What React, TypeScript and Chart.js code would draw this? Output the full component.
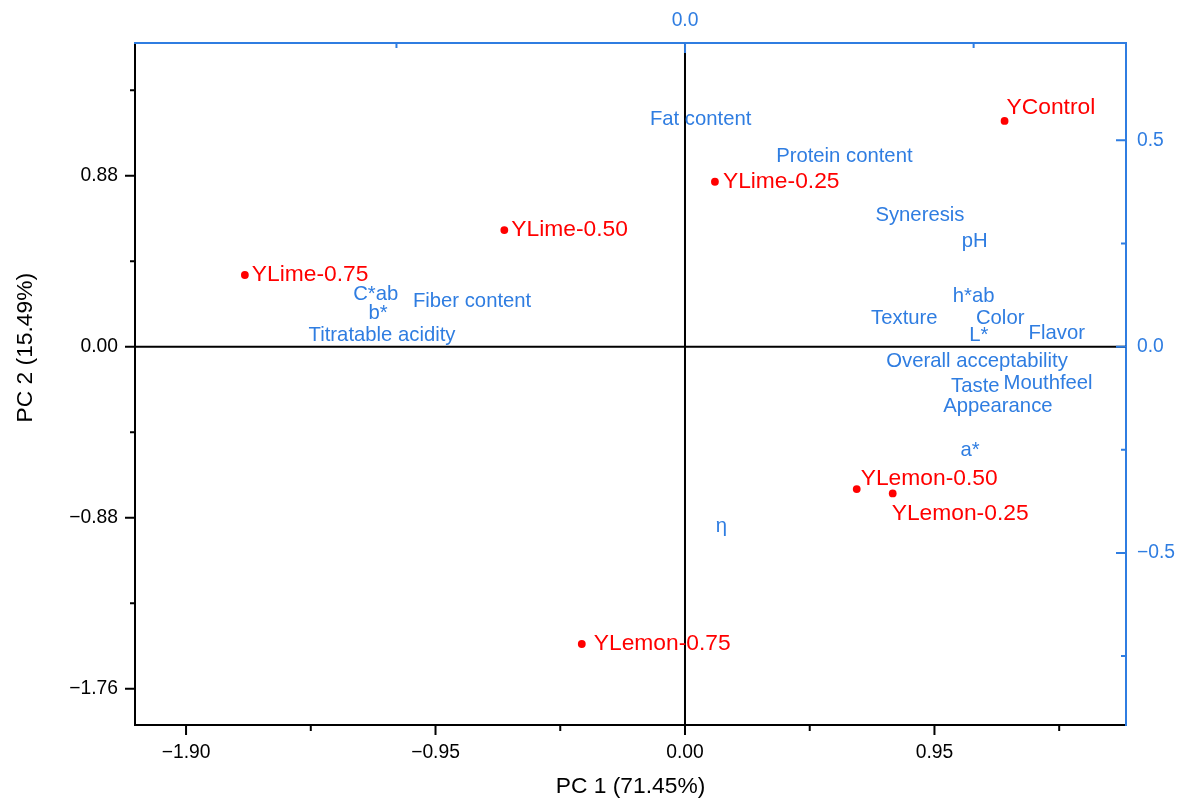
import React, { useEffect, useRef } from 'react';
import { Chart, registerables } from 'chart.js';

Chart.register(...registerables);

// ---------- data ----------
const sampleNames = ['YControl', 'YLime-0.25', 'YLime-0.50', 'YLime-0.75', 'YLemon-0.25', 'YLemon-0.50', 'YLemon-0.75'];
const scorePC1 = [1.217, 0.114, -0.688, -1.676, 0.791, 0.654, -0.393];
const scorePC2 = [1.162, 0.849, 0.6, 0.369, -0.755, -0.733, -1.53];

const variableNames = [
  'Fat content', 'Protein content', 'Syneresis', 'pH', 'h*ab', 'Texture', 'Color', 'L*', 'Flavor',
  'Overall acceptability', 'Taste', 'Mouthfeel', 'Appearance', 'a*', 'η', 'C*ab', 'b*',
  'Titratable acidity', 'Fiber content',
];
const loadingPC1 = [0.027, 0.276, 0.407, 0.502, 0.5, 0.38, 0.546, 0.509, 0.644, 0.506, 0.503, 0.629, 0.542, 0.494, 0.063, -0.536, -0.532, -0.525, -0.369];
const loadingPC2 = [0.554, 0.464, 0.322, 0.259, 0.125, 0.071, 0.071, 0.032, 0.036, -0.032, -0.093, -0.085, -0.141, -0.249, -0.432, 0.131, 0.085, 0.032, 0.113];

const pc1Ticks = [-1.9, -0.95, 0, 0.95];
const pc1TickLabels = ['−1.90', '−0.95', '0.00', '0.95'];
const pc1MinorTicks = [-1.425, -0.475, 0.475, 1.425];

const pc2Ticks = [-1.76, -0.88, 0, 0.88];
const pc2TickLabels = ['−1.76', '−0.88', '0.00', '0.88'];
const pc2MinorTicks = [-1.32, -0.44, 0.44, 1.32];

const loadXTicks = [0];
const loadXTickLabels = ['0.0'];
const loadXMinorTicks = [-0.5, 0.5];

const loadYTicks = [-0.5, 0, 0.5];
const loadYTickLabels = ['−0.5', '0.0', '0.5'];
const loadYMinorTicks = [-0.75, -0.25, 0.25];

// ---------- styling ----------
const BLUE = '#2F7DE1';
const RED = '#FF0000';
const FONT = '"Liberation Sans", Arial, sans-serif';
const sampleLabelOffsets = [[2, -13], [8, 0], [7, 0], [7, 0], [-1, 20], [4, -10], [12, 0]];
const variableLabelShiftY = 1.5;

const decorPlugin = {
  id: 'biplotDecor',
  beforeDatasetsDraw(chart: any) {
    const { ctx, chartArea, scales } = chart;
    const x0 = scales.x.getPixelForValue(0);
    const y0 = scales.y.getPixelForValue(0);
    ctx.save();
    ctx.strokeStyle = '#000';
    ctx.lineWidth = 2;
    ctx.beginPath();
    ctx.moveTo(x0, chartArea.top);
    ctx.lineTo(x0, chartArea.bottom);
    ctx.moveTo(chartArea.left, y0);
    ctx.lineTo(chartArea.right, y0);
    ctx.stroke();
    ctx.restore();
  },
  afterDatasetsDraw(chart: any) {
    const ctx = chart.ctx;
    ctx.save();
    ctx.textBaseline = 'middle';
    const m1 = chart.getDatasetMeta(1);
    ctx.font = `20.3px ${FONT}`;
    ctx.fillStyle = BLUE;
    ctx.textAlign = 'center';
    m1.data.forEach((el: any, i: number) => ctx.fillText(variableNames[i], el.x, el.y + variableLabelShiftY));
    const m0 = chart.getDatasetMeta(0);
    ctx.font = `22.8px ${FONT}`;
    ctx.fillStyle = RED;
    ctx.textAlign = 'left';
    m0.data.forEach((el: any, i: number) =>
      ctx.fillText(sampleNames[i], el.x + sampleLabelOffsets[i][0], el.y + sampleLabelOffsets[i][1])
    );
    ctx.restore();
  },
  afterDraw(chart: any) {
    const { ctx, chartArea, scales } = chart;
    ctx.save();
    ctx.lineWidth = 2;
    const tickSet = (scale: any, values: number[], len: number, side: string, color: string) => {
      ctx.strokeStyle = color;
      ctx.beginPath();
      values.forEach((v) => {
        const p = scale.getPixelForValue(v);
        if (side === 'bottom') { ctx.moveTo(p, chartArea.bottom); ctx.lineTo(p, chartArea.bottom + len); }
        if (side === 'left') { ctx.moveTo(chartArea.left, p); ctx.lineTo(chartArea.left - len, p); }
        if (side === 'top') { ctx.moveTo(p, chartArea.top); ctx.lineTo(p, chartArea.top + len); }
        if (side === 'right') { ctx.moveTo(chartArea.right, p); ctx.lineTo(chartArea.right - len, p); }
      });
      ctx.stroke();
    };
    tickSet(scales.x, pc1Ticks, 10, 'bottom', '#000');
    tickSet(scales.x, pc1MinorTicks, 6, 'bottom', '#000');
    tickSet(scales.y, pc2Ticks, 10, 'left', '#000');
    tickSet(scales.y, pc2MinorTicks, 5, 'left', '#000');
    tickSet(scales.x2, loadXTicks, 10, 'top', BLUE);
    tickSet(scales.x2, loadXMinorTicks, 5, 'top', BLUE);
    tickSet(scales.y2, loadYTicks, 10, 'right', BLUE);
    tickSet(scales.y2, loadYMinorTicks, 5, 'right', BLUE);

    // y axis title
    ctx.fillStyle = '#000';
    ctx.font = `22.8px ${FONT}`;
    ctx.textAlign = 'center';
    ctx.textBaseline = 'middle';
    ctx.translate(25.5, scales.y.getPixelForValue(0) + 1);
    ctx.rotate(-Math.PI / 2);
    ctx.fillText('PC 2 (15.49%)', 0, 0);
    ctx.restore();
  },
};

export default function App() {
  const ref = useRef<HTMLCanvasElement | null>(null);

  useEffect(() => {
    if (!ref.current) return;
    const tickFont = { family: FONT, size: 19.3 };
    const chart = new Chart(ref.current, {
      type: 'scatter',
      data: {
        datasets: [
          {
            label: 'Samples',
            data: scorePC1.map((v, i) => ({ x: v, y: scorePC2[i] })),
            xAxisID: 'x',
            yAxisID: 'y',
            pointRadius: 3.9,
            pointBackgroundColor: RED,
            pointBorderWidth: 0,
            borderColor: RED,
          },
          {
            label: 'Variables',
            data: loadingPC1.map((v, i) => ({ x: v, y: loadingPC2[i] })),
            xAxisID: 'x2',
            yAxisID: 'y2',
            pointRadius: 0,
            pointHoverRadius: 0,
          },
        ],
      },
      options: {
        responsive: false,
        animation: false,
        events: [],
        layout: { padding: 0 },
        plugins: { legend: { display: false }, tooltip: { enabled: false } },
        scales: {
          x: {
            type: 'linear',
            position: 'bottom',
            min: -2.0944,
            max: 1.6794,
            grid: { display: false, drawTicks: false },
            border: { display: true, color: '#000', width: 2 },
            afterBuildTicks: (s: any) => { s.ticks = pc1Ticks.map((v) => ({ value: v })); },
            afterFit: (s: any) => { s.height = 73; },
            ticks: {
              autoSkip: false,
              maxRotation: 0,
              padding: 16,
              color: '#000',
              font: tickFont,
              callback: (_v: any, i: number) => pc1TickLabels[i],
            },
            title: {
              display: true,
              text: 'PC 1 (71.45%)',
              color: '#000',
              font: { family: FONT, size: 22.8, lineHeight: 1 },
              padding: 0,
            },
          },
          y: {
            type: 'linear',
            position: 'left',
            min: -1.947,
            max: 1.563,
            grid: { display: false, drawTicks: false },
            border: { display: true, color: '#000', width: 2 },
            afterBuildTicks: (s: any) => { s.ticks = pc2Ticks.map((v) => ({ value: v })); },
            afterFit: (s: any) => { s.width = 135; },
            ticks: {
              autoSkip: false,
              padding: 17,
              color: '#000',
              font: tickFont,
              callback: (_v: any, i: number) => pc2TickLabels[i],
            },
          },
          x2: {
            type: 'linear',
            position: 'top',
            min: -0.953,
            max: 0.764,
            grid: { display: false, drawTicks: false },
            border: { display: true, color: BLUE, width: 2 },
            afterBuildTicks: (s: any) => { s.ticks = loadXTicks.map((v) => ({ value: v })); },
            afterFit: (s: any) => { s.height = 43; },
            ticks: {
              autoSkip: false,
              maxRotation: 0,
              padding: 11,
              color: BLUE,
              font: tickFont,
              callback: (_v: any, i: number) => loadXTickLabels[i],
            },
          },
          y2: {
            type: 'linear',
            position: 'right',
            min: -0.917,
            max: 0.736,
            grid: { display: false, drawTicks: false },
            border: { display: true, color: BLUE, width: 2 },
            afterBuildTicks: (s: any) => { s.ticks = loadYTicks.map((v) => ({ value: v })); },
            afterFit: (s: any) => { s.width = 52; },
            ticks: {
              autoSkip: false,
              padding: 11,
              color: BLUE,
              font: tickFont,
              callback: (_v: any, i: number) => loadYTickLabels[i],
            },
          },
        },
      },
      plugins: [decorPlugin],
    } as any);
    return () => chart.destroy();
  }, []);

  return (
    <div style={{ position: 'fixed', left: 0, top: 0, width: 1178, height: 798, background: '#fff' }}>
      <canvas ref={ref} width={1178} height={798} style={{ display: 'block' }} />
    </div>
  );
}
